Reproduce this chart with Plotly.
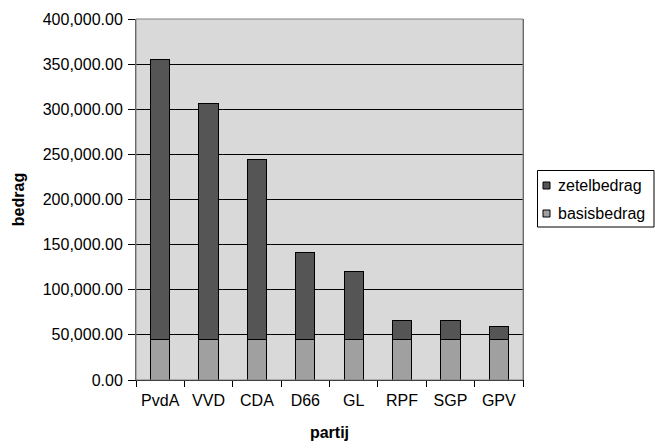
import plotly.graph_objects as go

partijen = ["PvdA", "VVD", "CDA", "D66", "GL", "RPF", "SGP", "GPV"]
basisbedrag = [45250, 45250, 45250, 45250, 45250, 45250, 45250, 45250]
zetelbedrag = [310250, 261250, 199250, 95750, 75250, 20750, 20750, 13550]
y_ticks = [0, 50000, 100000, 150000, 200000, 250000, 300000, 350000, 400000]
series_names = ["zetelbedrag", "basisbedrag"]
series_colors = ["#555555", "#a0a0a0"]

font = "Liberation Sans, Arial, sans-serif"

fig = go.Figure()
fig.add_trace(go.Bar(x=partijen, y=basisbedrag, name=series_names[1],
                     marker=dict(color=series_colors[1], line=dict(color="black", width=1))))
fig.add_trace(go.Bar(x=partijen, y=zetelbedrag, name=series_names[0],
                     marker=dict(color=series_colors[0], line=dict(color="black", width=1))))

L, R, T, B, W, H = 136, 523, 19, 380, 655, 448
def px(xp):
    return (xp - L) / (R - L)
def py(yp):
    return (B - yp) / (B - T)

fig.update_layout(
    barmode="stack",
    bargap=0.6,
    width=W, height=H,
    margin=dict(l=L, r=W - R, t=T, b=H - B, autoexpand=False),
    paper_bgcolor="white",
    plot_bgcolor="#d9d9d9",
    font=dict(family=font, size=16, color="black"),
    showlegend=False,
    xaxis=dict(title=dict(text="<b>partij</b>", font=dict(size=16), standoff=18),
               showline=True, linecolor="black", linewidth=1, mirror=False,
               ticks="outside", tickson="boundaries", ticklen=6, tickcolor="black",
               tickangle=0, ticklabelstandoff=6, showgrid=False),
    yaxis=dict(title=dict(text="<b>bedrag</b>", font=dict(size=16), standoff=14),
               range=[0, 400000], tickvals=y_ticks, tickformat=",.2f",
               showline=True, linecolor="#555555", linewidth=1, mirror=True,
               ticks="outside", ticklen=7, tickcolor="black", ticklabelstandoff=2,
               showgrid=True, gridcolor="black", gridwidth=1, zeroline=False),
)
fig.add_shape(type="rect", xref="paper", yref="paper", x0=0, y0=0, x1=1, y1=1,
              line=dict(color="#808080", width=1), layer="above")

# custom legend (Excel style)
fig.add_shape(type="rect", xref="paper", yref="paper",
              x0=px(537.5), x1=px(654), y0=py(227), y1=py(170.5),
              line=dict(color="black", width=1), fillcolor="white")
for i, (name, col) in enumerate(zip(series_names, series_colors)):
    cy = 185.5 + i * 28
    fig.add_shape(type="rect", xref="paper", yref="paper",
                  x0=px(543), x1=px(550), y0=py(cy + 3.5), y1=py(cy - 3.5),
                  line=dict(color="black", width=1), fillcolor=col)
    fig.add_annotation(x=px(556), y=py(cy), xref="paper", yref="paper",
                       text=name, showarrow=False, xanchor="left", yanchor="middle",
                       font=dict(size=16, family=font, color="black"))

fig.write_html("out.html", config={"displayModeBar": False},
               post_script="document.body.style.margin='0';")
